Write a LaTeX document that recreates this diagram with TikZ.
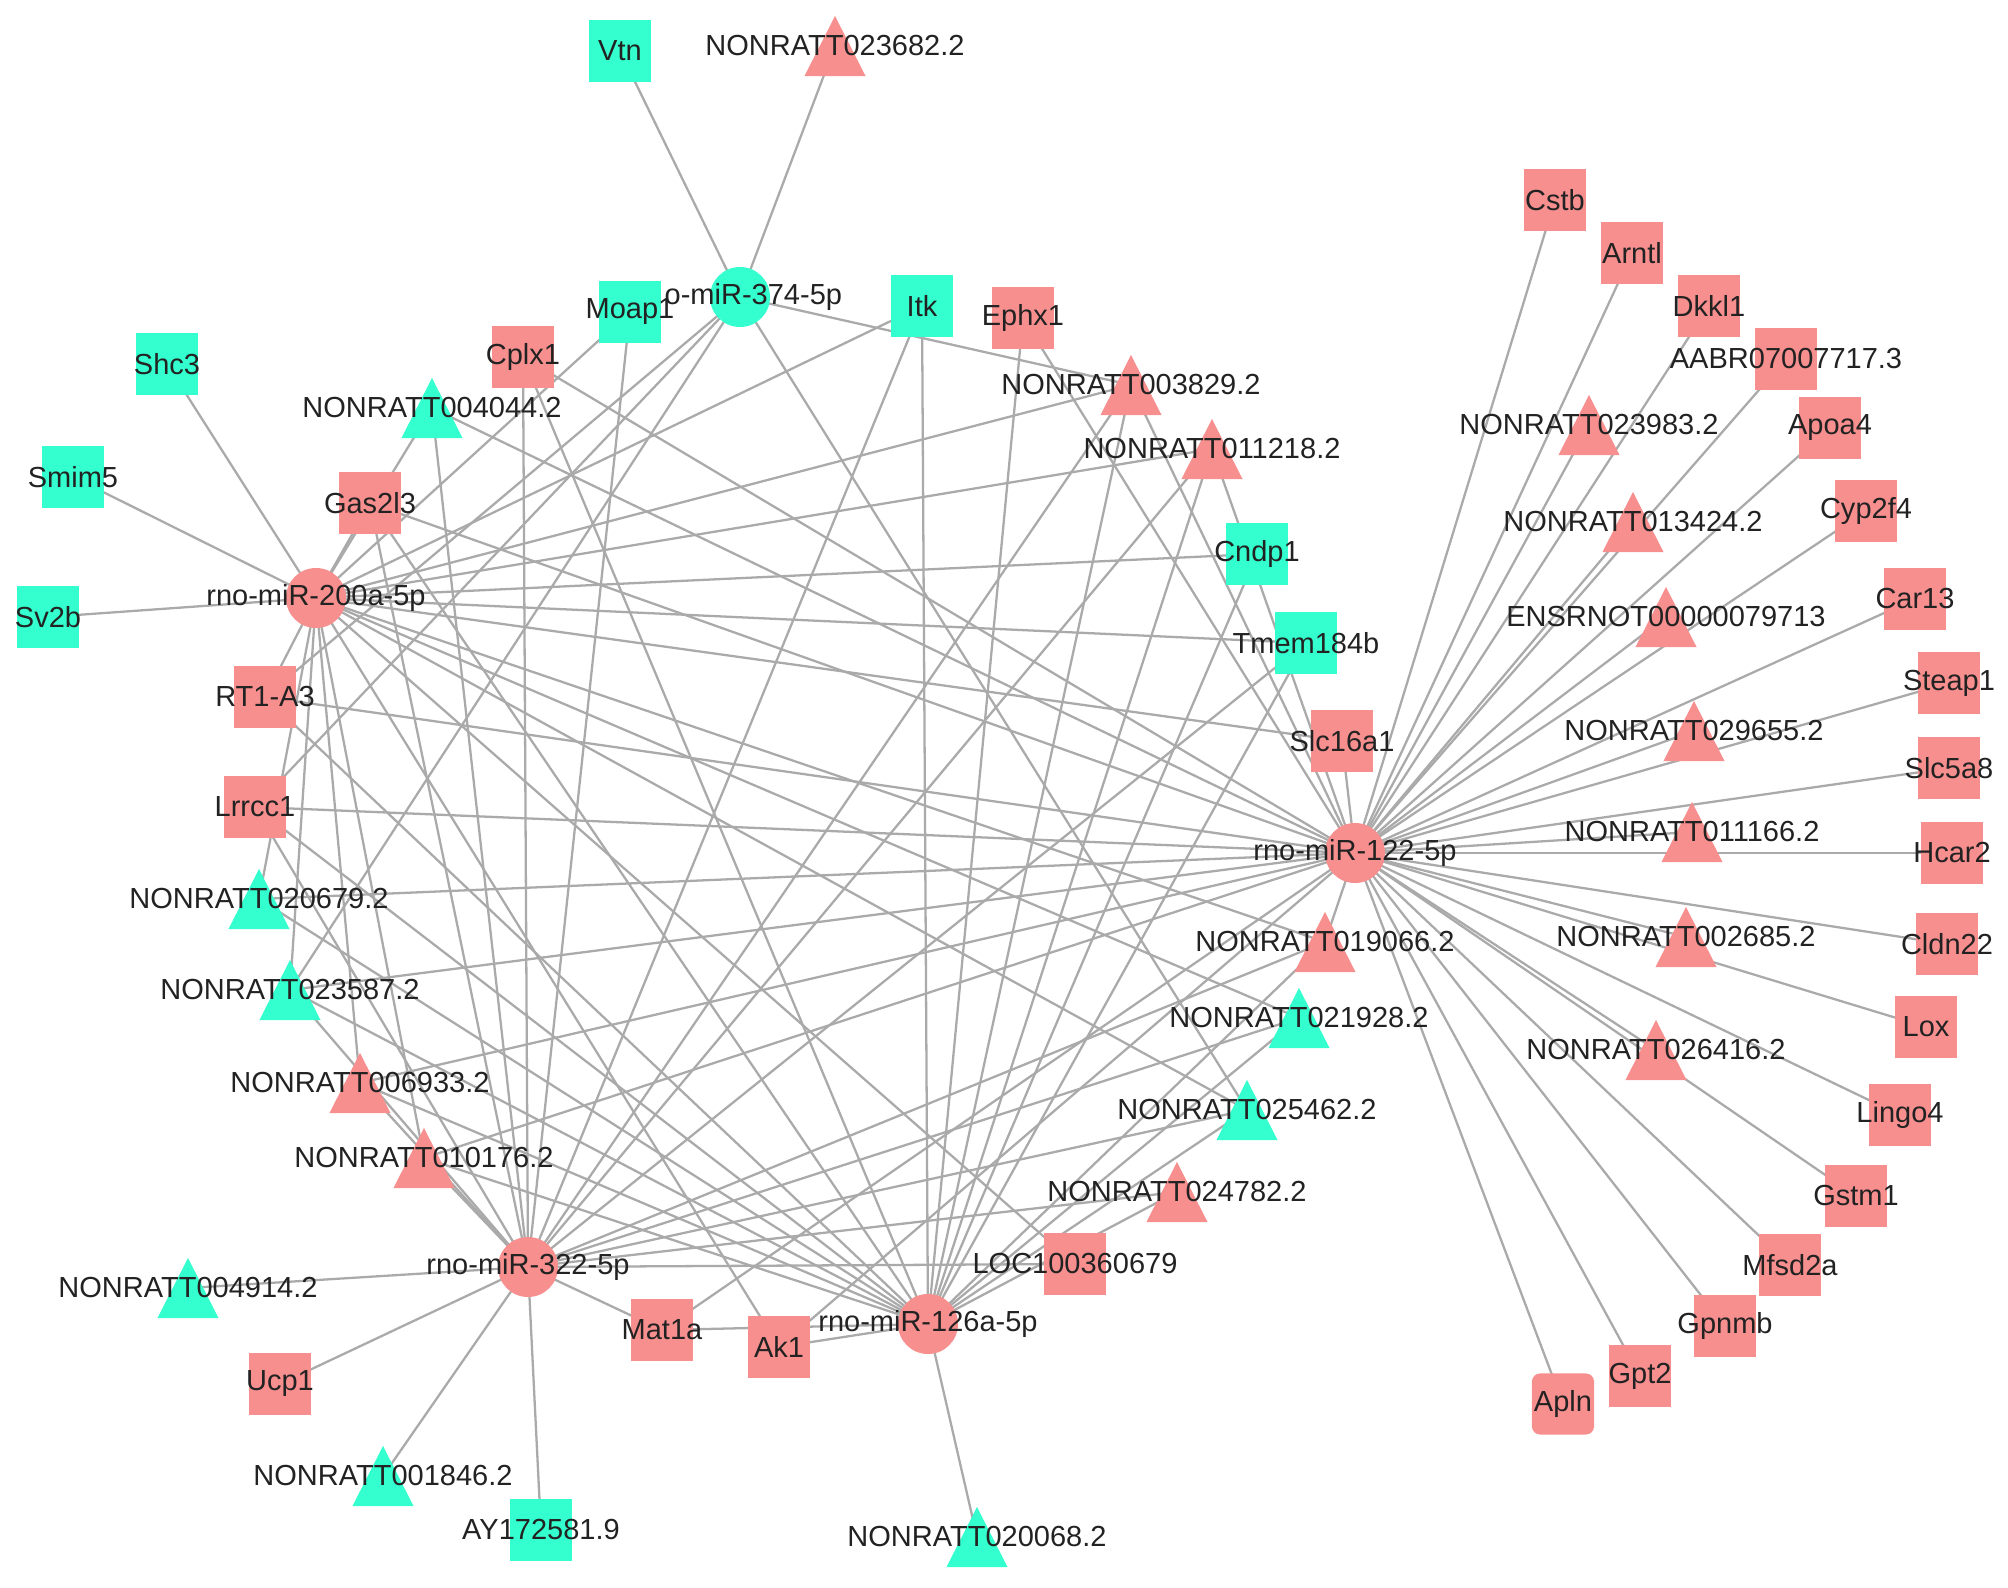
\documentclass[tikz,border=0pt]{standalone}
\usepackage{fontspec}
\setmainfont{Liberation Sans}
\usetikzlibrary{backgrounds}

\definecolor{upcol}{RGB}{248,143,143}
\definecolor{downcol}{RGB}{52,255,206}
\definecolor{lnkcol}{RGB}{170,170,170}
\definecolor{txtcol}{RGB}{34,34,34}

\begin{document}
\begin{tikzpicture}[x=0.01cm,y=-0.01cm]
	\tikzset{
		lbl/.style={text=txtcol,font=\fontsize{8.25}{9}\selectfont,inner sep=0pt},
		gene/.style={rectangle,minimum width=0.62cm,minimum height=0.61cm,inner sep=0pt},
		lnc/.style={rectangle,minimum width=0.61cm,minimum height=0.60cm,inner sep=0pt},
		mir/.style={circle,minimum size=0.6cm,inner sep=0pt},
		lnk/.style={draw=lnkcol,line width=0.65pt},
	}
	\tikzstyle{upbox}=[gene,fill=upcol]
	\tikzstyle{dnbox}=[gene,fill=downcol]
	\tikzstyle{uptri}=[lnc,path picture={\fill[upcol] (path picture bounding box.south west) -- (path picture bounding box.south east) -- (path picture bounding box.north) -- cycle;}]
	\tikzstyle{dntri}=[lnc,path picture={\fill[downcol] (path picture bounding box.south west) -- (path picture bounding box.south east) -- (path picture bounding box.north) -- cycle;}]
	\useasboundingbox (0,0) rectangle (2008,1588);

	%% miRNAs
	\node[mir,fill=downcol] (m374) at (740,297) {};
	\node[lbl,anchor=west] (m374l) at (664,297) {o-miR-374-5p};
	\node[mir,fill=upcol,label={[lbl]center:rno-miR-200a-5p}] (m200) at (316,598) {};
	\node[mir,fill=upcol,label={[lbl]center:rno-miR-322-5p}] (m322) at (528,1267) {};
	\node[mir,fill=upcol,label={[lbl]center:rno-miR-126a-5p}] (m126) at (928,1324) {};
	\node[mir,fill=upcol,label={[lbl]center:rno-miR-122-5p}] (m122) at (1355,853) {};

	%% down-regulated targets
	\foreach \n/\x/\y/\t in {vtn/620/51/Vtn, moap1/630/312/Moap1, itk/922/306/Itk,
		shc3/167/364/Shc3, smim5/73/477/Smim5, sv2b/48/617/Sv2b, cndp1/1257/554/Cndp1,
		tmem/1306/643/Tmem184b, ay/541/1530/AY172581.9}
		\node[dnbox,label={[lbl]center:\t}] (\n) at (\x,\y) {};
	\foreach \n/\x/\y/\t in {t4044/432/408/NONRATT004044.2, t20679/259/899/NONRATT020679.2,
		t23587/290/990/NONRATT023587.2, t21928/1299/1018/NONRATT021928.2,
		t25462/1247/1110/NONRATT025462.2, t4914/188/1288/NONRATT004914.2,
		t1846/383/1476/NONRATT001846.2, t20068/977/1537/NONRATT020068.2}
		\node[dntri,label={[lbl]center:\t}] (\n) at (\x,\y) {};

	%% up-regulated targets
	\foreach \n/\x/\y/\t in {cplx1/523/357/Cplx1, ephx1/1023/318/Ephx1, gas2l3/370/503/Gas2l3,
		rt1a3/265/697/RT1-A3, lrrcc1/255/807/Lrrcc1, slc16a1/1342/741/Slc16a1,
		ucp1/280/1384/Ucp1, mat1a/662/1330/Mat1a, ak1/779/1347/Ak1, loc/1075/1264/LOC100360679,
		cstb/1555/200/Cstb, arntl/1632/253/Arntl, dkkl1/1709/306/Dkkl1,
		aabr/1786/359/AABR07007717.3, apoa4/1830/428/Apoa4, cyp2f4/1866/511/Cyp2f4,
		car13/1915/599/Car13, steap1/1949/683/Steap1, slc5a8/1949/768/Slc5a8,
		hcar2/1952/853/Hcar2, cldn22/1947/944/Cldn22, lox/1926/1027/Lox,
		lingo4/1900/1115/Lingo4, gstm1/1856/1196/Gstm1, mfsd2a/1790/1265/Mfsd2a,
		gpnmb/1725/1326/Gpnmb, gpt2/1640/1376/Gpt2}
		\node[upbox,label={[lbl]center:\t}] (\n) at (\x,\y) {};
	\node[upbox,rounded corners=0.08cm,label={[lbl]center:Apln}] (apln) at (1563,1404) {};
	\foreach \n/\x/\y/\t in {t23682/835/46/NONRATT023682.2, t3829/1131/385/NONRATT003829.2,
		t11218/1212/449/NONRATT011218.2, t6933/360/1083/NONRATT006933.2,
		t10176/424/1158/NONRATT010176.2, t24782/1177/1192/NONRATT024782.2,
		t19066/1325/942/NONRATT019066.2, t23983/1589/425/NONRATT023983.2,
		t13424/1633/522/NONRATT013424.2, ensr/1666/617/ENSRNOT00000079713,
		t29655/1694/731/NONRATT029655.2, t11166/1692/832/NONRATT011166.2,
		t2685/1686/937/NONRATT002685.2, t26416/1656/1050/NONRATT026416.2}
		\node[uptri,label={[lbl]center:\t}] (\n) at (\x,\y) {};

	%% interactions
	\begin{pgfonlayer}{background}
	\foreach \b in {vtn,t23682,t3829,lrrcc1,rt1a3,t23587,t25462}
		\path[lnk] (m374.center) edge (\b.center);
	\foreach \b in {shc3,smim5,sv2b,moap1,itk,t4044,gas2l3,t3829,t11218,cndp1,tmem,
		slc16a1,t19066,t21928,t25462,loc,rt1a3,t20679,t23587,t6933,t10176,ak1}
		\path[lnk] (m200.center) edge (\b.center);
	\foreach \b in {t4914,ucp1,t1846,ay,mat1a,loc,moap1,cplx1,t4044,itk,t3829,t11218,
		gas2l3,lrrcc1,t23587,t6933,t10176,t24782,t25462,t21928,t19066,tmem}
		\path[lnk] (m322.center) edge (\b.center);
	\foreach \b in {t20068,ak1,mat1a,itk,ephx1,cplx1,t3829,t11218,t24782,t25462,t21928,
		t19066,cndp1,tmem,rt1a3,lrrcc1,t20679,t23587,t6933,t10176,gas2l3}
		\path[lnk] (m126.center) edge (\b.center);
	\foreach \b in {cstb,arntl,dkkl1,aabr,apoa4,cyp2f4,car13,steap1,slc5a8,hcar2,cldn22,
		lox,lingo4,gstm1,mfsd2a,gpnmb,gpt2,apln,t23983,t13424,ensr,t29655,t11166,t2685,
		t26416,slc16a1,t19066,ephx1,cplx1,t3829,t11218,rt1a3,lrrcc1,gas2l3,t4044,mat1a,
		t20679,t23587,t6933,t10176,ak1}
		\path[lnk] (m122.center) edge (\b.center);
	\end{pgfonlayer}
\end{tikzpicture}
\end{document}
